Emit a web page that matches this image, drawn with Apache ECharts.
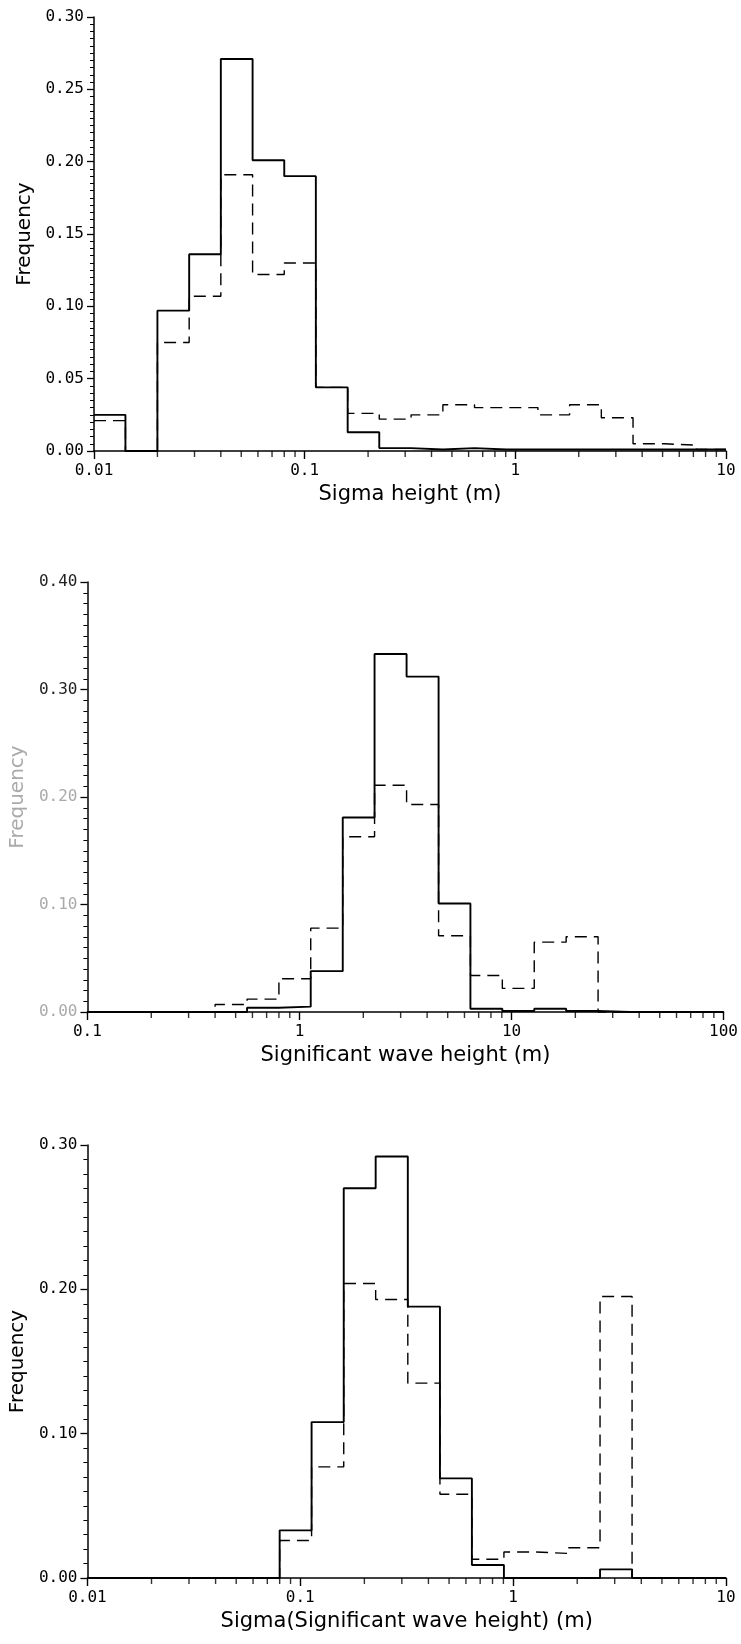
<!DOCTYPE html>
<html><head><meta charset="utf-8">
<script src="https://cdn.jsdelivr.net/npm/echarts@6/dist/echarts.min.js"></script>
<style>html,body{margin:0;padding:0;background:#fff}#c{width:741px;height:1644px}</style>
</head><body><div id="c"></div>
<script>
// ---- Panel 1: Sigma height (m) ----
const edges1 = [0.01,0.0141,0.02,0.0283,0.04,0.0566,0.08,0.113,0.16,0.226,0.32,0.453,0.64,0.905,1.28,1.81,2.56,3.62,5.12,7.24,10];
const solid1 = [0.025,0,0.097,0.136,0.271,0.201,0.190,0.044,0.013,0.002,0.001,0.002,0.001,0.001,0.001,0.001,0.001,0.001,0.001,0.001];
const dashed1 = [0.021,0,0.075,0.107,0.191,0.122,0.130,0.044,0.026,0.022,0.025,0.032,0.030,0.030,0.025,0.032,0.023,0.005,0.004,0.001];
const xTicks1 = [0.01,0.1,1,10];
const xLabels1 = ['0.01','0.1','1','10'];

// ---- Panel 2: Significant wave height (m) ----
const edges2 = [0.1,0.141,0.2,0.283,0.4,0.566,0.8,1.13,1.6,2.26,3.2,4.53,6.4,9.05,12.8,18.1,25.6,36.2,51.2,72.4,100];
const solid2 = [0,0,0,0,0,0.004,0.005,0.038,0.181,0.333,0.312,0.101,0.003,0.001,0.003,0.001,0,0,0,0];
const dashed2 = [0,0,0,0,0.007,0.012,0.031,0.078,0.163,0.211,0.193,0.071,0.034,0.022,0.065,0.070,0,0,0,0];
const xTicks2 = [0.1,1,10,100];
const xLabels2 = ['0.1','1','10','100'];

// ---- Panel 3: Sigma(Significant wave height) (m) ----
const edges3 = [0.01,0.0141,0.02,0.0283,0.04,0.0566,0.08,0.113,0.16,0.226,0.32,0.453,0.64,0.905,1.28,1.81,2.56,3.62,5.12,7.24,10];
const solid3 = [0,0,0,0,0,0,0.033,0.108,0.270,0.292,0.188,0.069,0.009,0,0,0,0.006,0,0,0];
const dashed3 = [0,0,0,0,0,0,0.026,0.077,0.204,0.193,0.135,0.058,0.013,0.018,0.017,0.021,0.195,0,0,0];
const xTicks3 = [0.01,0.1,1,10];
const xLabels3 = ['0.01','0.1','1','10'];

const xTitles = ['Sigma height (m)','Significant wave height (m)','Sigma(Significant wave height) (m)'];
const yTitle = 'Frequency';
const yMax = [0.30,0.40,0.30];
const yInterval = [0.05,0.10,0.10];

const panels = [
  {edges:edges1, solid:solid1, dashed:dashed1, ticks:xTicks1, labels:xLabels1},
  {edges:edges2, solid:solid2, dashed:dashed2, ticks:xTicks2, labels:xLabels2},
  {edges:edges3, solid:solid3, dashed:dashed3, ticks:xTicks3, labels:xLabels3}
];
const grids = [
  {left:94, top:17, width:632, height:434},
  {left:86, top:582, width:641, height:430},
  {left:85, top:1145, width:641, height:433}
];

function stepData(edges, vals){
  const d = vals.map((v,i)=>[edges[i], v]);
  d.push([edges[edges.length-1], vals[vals.length-1]]);
  return d;
}
// log-decade minor tick positions (2..9 within each decade) for the x axis
function minorTicks(ticks){
  const out = [];
  for (let i=0;i<ticks.length-1;i++){
    for (let k=2;k<=9;k++) out.push([ticks[i]*k, 0]);
  }
  return out;
}
function labelFor(ticks, labels){
  return function(v){
    for (let i=0;i<ticks.length;i++){
      if (Math.abs(Math.log10(v)-Math.log10(ticks[i]))<1e-6) return labels[i];
    }
    return '';
  };
}

const mono = 'DejaVu Sans Mono';
const sans = 'DejaVu Sans';
const option = {animation:false, backgroundColor:'#fff', grid:[], xAxis:[], yAxis:[], series:[]};

panels.forEach((p,i)=>{
  option.grid.push(Object.assign({containLabel:false}, grids[i]));
  const faint = (i===1);
  option.xAxis.push({
    type:'log', logBase:10, gridIndex:i, min:p.ticks[0], max:p.ticks[p.ticks.length-1],
    name:xTitles[i], nameLocation:'middle', nameGap:33,
    nameTextStyle:{fontFamily:sans, fontSize:21, color:'#000'},
    axisLine:{show:true, onZero:false, lineStyle:{color:'#000', width:1.5}},
    axisTick:{show:true, inside:false, length:8, lineStyle:{color:'#000', width:1.4}},
    minorTick:{show:false},
    axisLabel:{fontFamily:mono, fontSize:16, color:'#000', margin:12, formatter:labelFor(p.ticks,p.labels)},
    splitLine:{show:false}
  });
  option.yAxis.push({
    type:'value', gridIndex:i, min:0, max:yMax[i], interval:yInterval[i],
    name:yTitle, nameLocation:'middle', nameGap:54,
    nameTextStyle:{fontFamily:sans, fontSize:20, color: faint ? '#aaa' : '#000'},
    axisLine:{show:true, lineStyle:{color:'#000', width:1.5}},
    axisTick:{show:true, inside:false, length:7, lineStyle:{color:'#000', width:1.3}},
    minorTick:{show:true, splitNumber:10, length:4, lineStyle:{color:'#000', width:1}},
    axisLabel:{fontFamily:mono, fontSize:16, margin:10,
      color: faint ? function(v){ return v >= 0.3 - 1e-9 ? '#222' : '#aaa'; } : '#000',
      formatter:v=>v.toFixed(2)},
    splitLine:{show:false}
  });
  option.series.push({
    type:'line', xAxisIndex:i, yAxisIndex:i, step:'end', showSymbol:false, symbol:'none',
    data:stepData(p.edges,p.dashed), clip:false,
    lineStyle:{color:'#000', width:1.4, type:[12,7]}, z:3
  });
  option.series.push({
    type:'line', xAxisIndex:i, yAxisIndex:i, step:'end', showSymbol:false, symbol:'none',
    data:stepData(p.edges,p.solid), clip:false,
    lineStyle:{color:'#000', width:1.9, type:'solid'}, z:4
  });
  option.series.push({
    type:'scatter', xAxisIndex:i, yAxisIndex:i, clip:false, silent:true,
    data:minorTicks(p.ticks),
    symbol:'rect', symbolSize:[1.4, 6], symbolOffset:[0, 3],
    itemStyle:{color:'#000'},
    z:5
  });
});

const chart = echarts.init(document.getElementById('c'), null, {renderer:'canvas'});
chart.setOption(option);
</script>
</body></html>
